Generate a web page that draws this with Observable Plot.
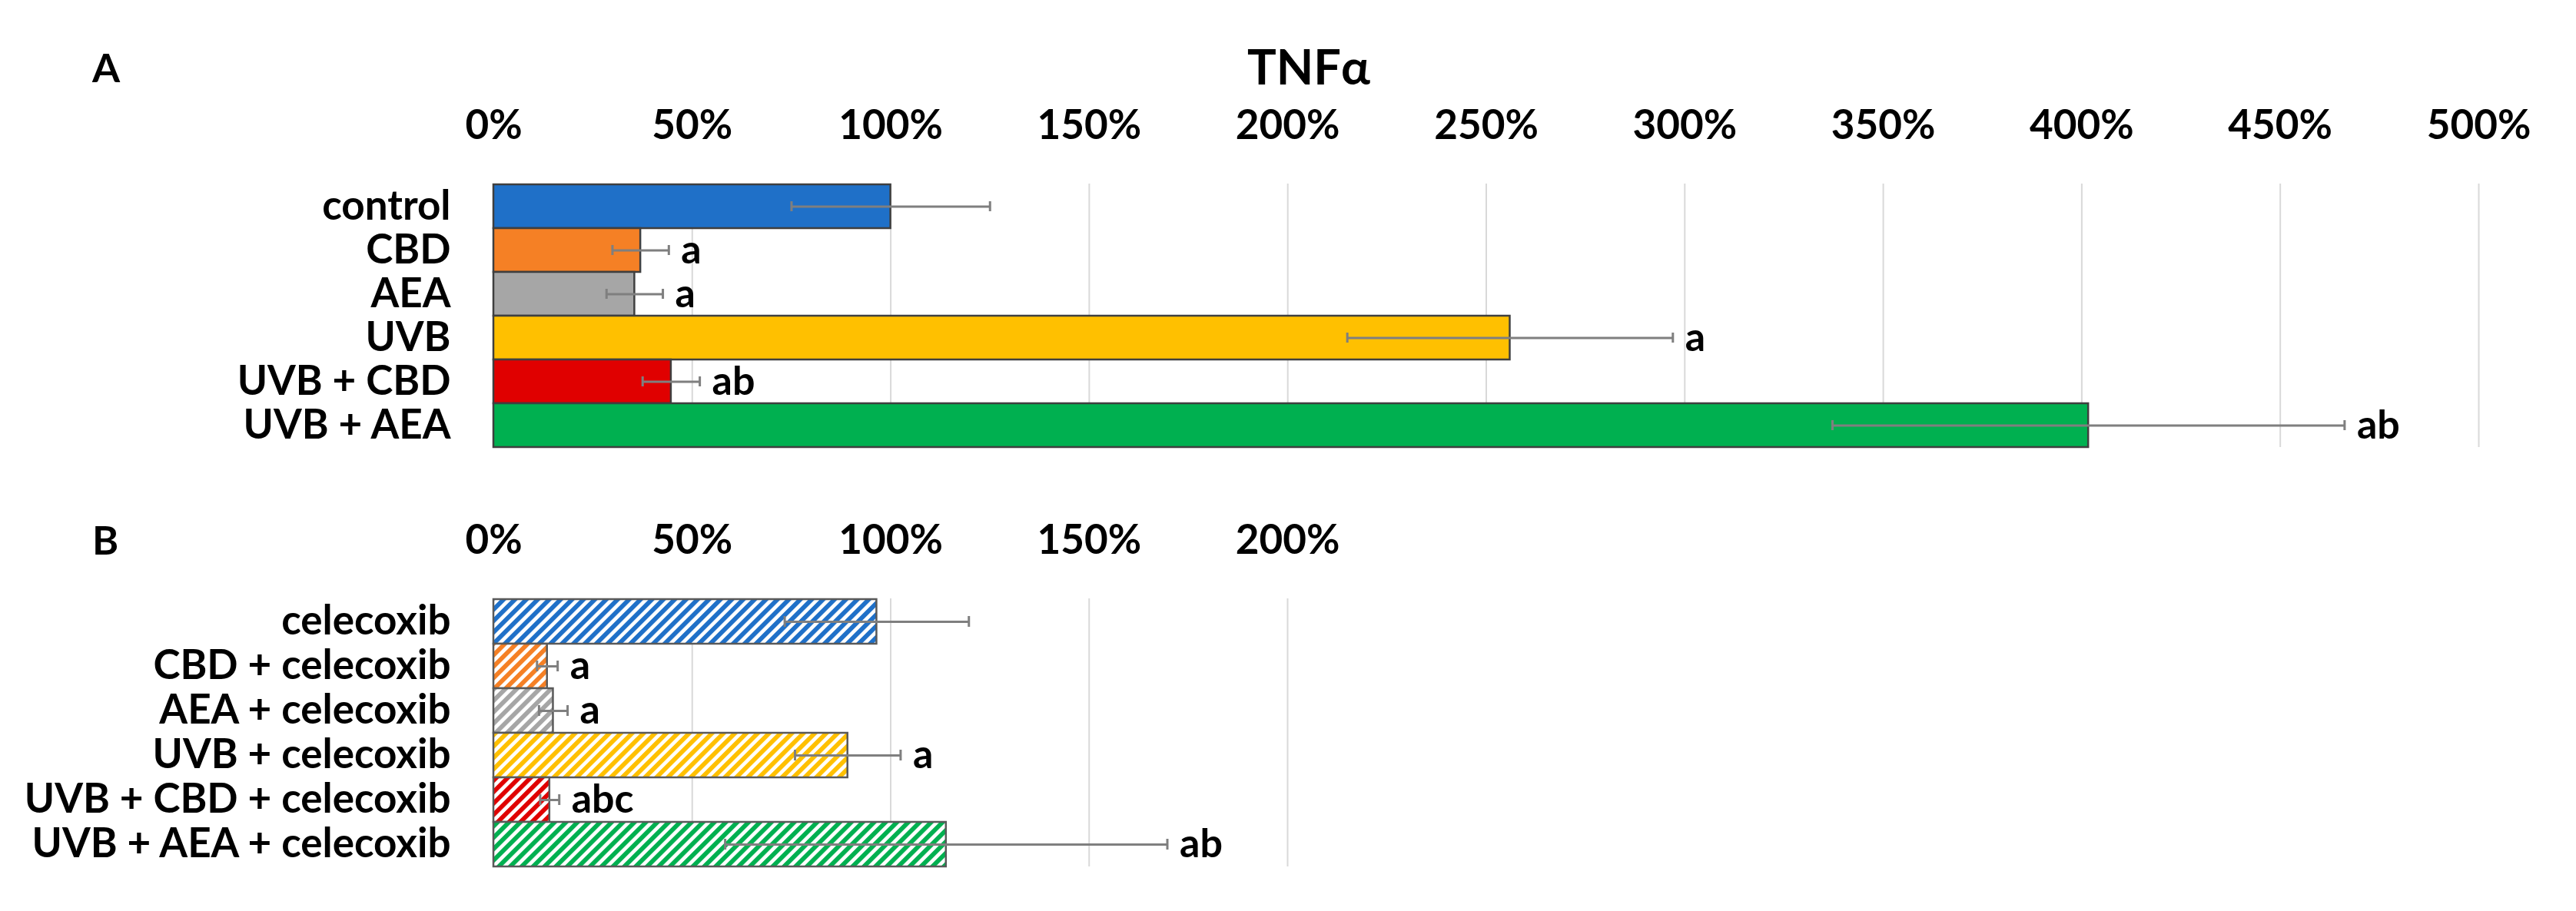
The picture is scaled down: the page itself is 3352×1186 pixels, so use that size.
<!DOCTYPE html>
<html>
<head>
<meta charset="utf-8">
<script src="https://cdn.jsdelivr.net/npm/d3@7"></script>
<script src="https://cdn.jsdelivr.net/npm/@observablehq/plot@0.6"></script>
<style>
  html, body { margin: 0; padding: 0; background: #fff; }
  #wrap { position: relative; width: 3352px; height: 1186px; overflow: hidden; font-family: Lato, "Open Sans", sans-serif; }
  .lbl { position: absolute; font-weight: 700; color: #000; white-space: nowrap; }
  #panelA, #panelB { position: absolute; left: 0; }
  #panelA { top: 0; }
  #panelB { top: 600px; }
</style>
</head>
<body>
<div id="wrap">
  <div id="panelA"></div>
  <div id="panelB"></div>
  <div class="lbl" id="title" style="left:1503px; width:400px; text-align:center; top:54px; font-size:63px; line-height:63px;">TNFα</div>
  <div class="lbl" style="left:120px; top:61px; font-size:52px; line-height:52px;">A</div>
  <div class="lbl" style="left:120px; top:676px; font-size:52px; line-height:52px;">B</div>
</div>
<script>
// ---------- data ----------
const catsA = ["control", "CBD", "AEA", "UVB", "UVB + CBD", "UVB + AEA"];
const meansA = [100, 37, 35.5, 256, 44.7, 401.7];
const sdsA = [25, 7.1, 7.1, 41, 7.2, 64.5];
const lettersA = ["", "a", "a", "a", "ab", "ab"];
const colorsA = ["#1f70c8", "#f58025", "#a6a6a6", "#ffc000", "#e00000", "#00b050"];
const ticksA = [0, 50, 100, 150, 200, 250, 300, 350, 400, 450, 500];

const catsB = ["celecoxib", "CBD + celecoxib", "AEA + celecoxib", "UVB + celecoxib", "UVB + CBD + celecoxib", "UVB + AEA + celecoxib"];
const meansB = [96.5, 13.5, 15, 89.2, 14.1, 114];
const sdsB = [23.2, 2.6, 3.6, 13.3, 2.4, 55.7];
const lettersB = ["", "a", "a", "a", "abc", "ab"];
const colorsB = ["#1f70c8", "#f58025", "#a6a6a6", "#ffc000", "#e00000", "#00b050"];
const ticksB = [0, 50, 100, 150, 200];

// ---------- helpers ----------
const FONT = "Lato, 'Open Sans', sans-serif";
const tableA = catsA.map((c, i) => ({cat: c, mean: meansA[i], sd: sdsA[i], letter: lettersA[i], fill: colorsA[i]}));
const tableB = catsB.map((c, i) => ({cat: c, mean: meansB[i], sd: sdsB[i], letter: lettersB[i], fill: `url(#hatch${i})`}));

function panel(table, cats, ticks, opts) {
  return Plot.plot({
    width: 3352,
    height: opts.height,
    marginLeft: 642,
    marginRight: opts.marginRight,
    marginTop: opts.marginTop,
    marginBottom: opts.marginBottom,
    style: {fontFamily: FONT, fontWeight: 700, color: "#000", background: "transparent"},
    color: {type: "identity"},
    x: {domain: [ticks[0], ticks[ticks.length - 1]]},
    y: {domain: cats, padding: 0},
    marks: [
      Plot.gridX(ticks.slice(1), {stroke: "#d9d9d9", strokeOpacity: 1, strokeWidth: 2}),
      Plot.axisX({anchor: "top", ticks, tickSize: 0, tickPadding: 59, fontSize: 53, fontWeight: 700,
        tickFormat: d => d + "%", label: null}),
      Plot.axisY({tickSize: 0, tickPadding: 56, fontSize: 53, fontWeight: 700, label: null}),
      Plot.barX(table, {x1: 0, x2: "mean", y: "cat", fill: "fill", stroke: opts.barStroke, strokeWidth: 2.5}),
      Plot.ruleY(table, {x1: d => d.mean - d.sd, x2: d => d.mean + d.sd, y: "cat", stroke: "#7f7f7f", strokeWidth: 3}),
      Plot.tickX(table, {x: d => d.mean - d.sd, y: "cat", stroke: "#7f7f7f", strokeWidth: 3, insetTop: 22, insetBottom: 22}),
      Plot.tickX(table, {x: d => d.mean + d.sd, y: "cat", stroke: "#7f7f7f", strokeWidth: 3, insetTop: 22, insetBottom: 22}),
      Plot.text(table, {x: d => d.mean + d.sd, y: "cat", text: "letter", textAnchor: "start", dx: 16,
        fontSize: 52, fontWeight: 700, fill: "#000"})
    ]
  });
}

const svgA = panel(tableA, catsA, ticksA, {height: 600, marginTop: 239, marginBottom: 18, marginRight: 127, barStroke: "#3f3f3f"});
const svgB = panel(tableB, catsB, ticksB, {height: 586, marginTop: 179, marginBottom: 58, marginRight: 1677, barStroke: "#595959"});

// hatch patterns for panel B (wide upward diagonal)
const defs = d3.select(svgB).insert("defs", ":first-child");
colorsB.forEach((c, i) => {
  const p = defs.append("pattern")
    .attr("id", `hatch${i}`)
    .attr("patternUnits", "userSpaceOnUse")
    .attr("width", 10.5).attr("height", 10.5)
    .attr("patternTransform", "rotate(45)");
  p.append("rect").attr("width", 10.5).attr("height", 10.5).attr("fill", "#fff");
  p.append("rect").attr("width", 5.8).attr("height", 10.5).attr("fill", c);
});

document.getElementById("panelA").appendChild(svgA);
document.getElementById("panelB").appendChild(svgB);
</script>
</body>
</html>
